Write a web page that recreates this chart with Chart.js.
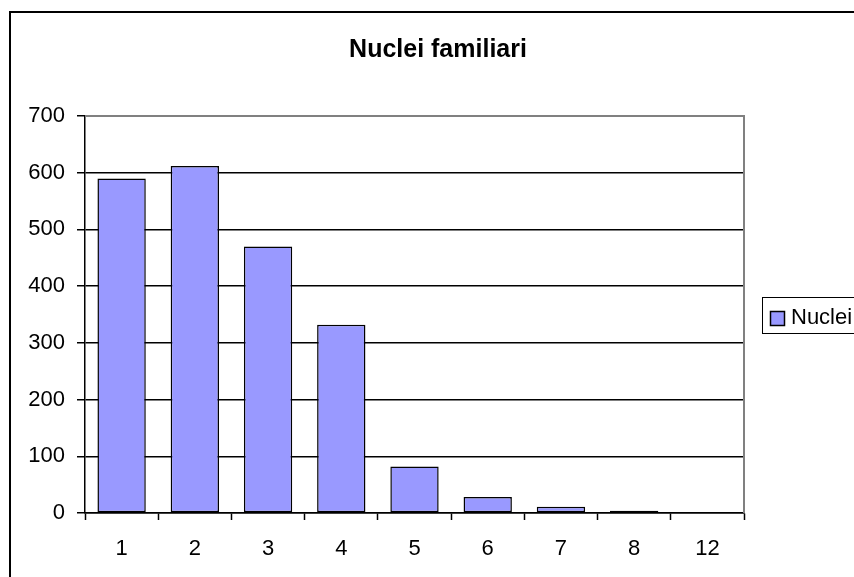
<!DOCTYPE html>
<html>
<head>
<meta charset="utf-8">
<script src="https://cdn.jsdelivr.net/npm/chart.js@4/dist/chart.umd.min.js"></script>
<style>
  html, body { margin: 0; padding: 0; background: #fff; }
  #wrap { width: 854px; height: 577px; }
</style>
</head>
<body>
<div id="wrap"><canvas id="c" width="854" height="577"></canvas></div>
<script>
// Household size categories and counts
const categories = ['1', '2', '3', '4', '5', '6', '7', '8', '12'];
const nuclei = [590, 612, 470, 332, 82, 28, 11, 4, 0];
const seriesName = 'Nuclei';
const chartTitle = 'Nuclei familiari';
const yTicks = [0, 100, 200, 300, 400, 500, 600, 700];

const FONT = 'Arial, "Liberation Sans", sans-serif';
const FILL = '#9999FF';

// Outer frame, title, plot border and boxed legend
const decor = {
  id: 'decor',
  beforeDraw(chart) {
    const ctx = chart.ctx;
    ctx.save();
    ctx.fillStyle = '#fff';
    ctx.fillRect(0, 0, chart.width, chart.height);
    ctx.strokeStyle = '#000';
    ctx.lineWidth = 2;
    ctx.strokeRect(10, 12, 1000, 1000);
    ctx.restore();
  },
  beforeDatasetsDraw(chart) {
    const { ctx, chartArea: a } = chart;
    ctx.save();
    ctx.strokeStyle = '#808080';
    ctx.lineWidth = 2;
    ctx.beginPath();
    ctx.moveTo(a.left, a.top);
    ctx.lineTo(a.right, a.top);
    ctx.lineTo(a.right, a.bottom);
    ctx.stroke();
    ctx.restore();
  },
  afterDraw(chart) {
    const ctx = chart.ctx;
    ctx.save();
    // title
    ctx.fillStyle = '#000';
    ctx.font = 'bold 25px ' + FONT;
    ctx.textAlign = 'center';
    ctx.textBaseline = 'alphabetic';
    ctx.fillText(chartTitle, 438, 57);
    // legend
    ctx.strokeStyle = '#000';
    ctx.lineWidth = 1;
    ctx.strokeRect(762.5, 297.5, 200, 36);
    ctx.fillStyle = FILL;
    ctx.fillRect(770.5, 311.5, 14, 14);
    ctx.lineWidth = 1.5;
    ctx.strokeRect(770.5, 311.5, 14, 14);
    ctx.fillStyle = '#000';
    ctx.font = '22px ' + FONT;
    ctx.textAlign = 'left';
    ctx.textBaseline = 'middle';
    ctx.fillText(seriesName, 791, 318);
    ctx.restore();
  }
};

new Chart(document.getElementById('c'), {
  type: 'bar',
  data: {
    labels: categories,
    datasets: [{
      label: seriesName,
      data: nuclei,
      backgroundColor: FILL,
      borderColor: '#000',
      borderWidth: 1.5,
      borderSkipped: false,
      barPercentage: 0.66,
      categoryPercentage: 1.0
    }]
  },
  options: {
    responsive: false,
    animation: false,
    devicePixelRatio: 1,
    layout: { padding: { left: 0, right: 110, top: 116, bottom: 0 } },
    plugins: {
      legend: { display: false },
      title: { display: false },
      tooltip: { enabled: false }
    },
    scales: {
      x: {
        offset: true,
        afterFit(scale) { scale.height = 64; },
        grid: {
          offset: true,
          drawOnChartArea: false,
          drawTicks: true,
          tickLength: 7,
          tickColor: '#000',
          tickWidth: 1.5
        },
        border: { color: '#000', width: 1.5 },
        ticks: {
          color: '#000',
          font: { family: FONT, size: 22 },
          padding: 16,
          maxRotation: 0
        }
      },
      y: {
        min: 0,
        max: 700,
        afterFit(scale) { scale.width = 85; },
        afterBuildTicks(scale) { scale.ticks = yTicks.map(v => ({ value: v })); },
        grid: {
          color: ctx => (ctx.tick && ctx.tick.value === 700 ? 'rgba(0,0,0,0)' : '#000'),
          lineWidth: 1.5,
          drawTicks: true,
          tickLength: 8,
          tickColor: '#000',
          tickWidth: 1.5
        },
        border: { color: '#000', width: 1.5 },
        ticks: {
          color: '#000',
          font: { family: FONT, size: 22 },
          padding: 12
        }
      }
    }
  },
  plugins: [decor]
});
</script>
</body>
</html>
